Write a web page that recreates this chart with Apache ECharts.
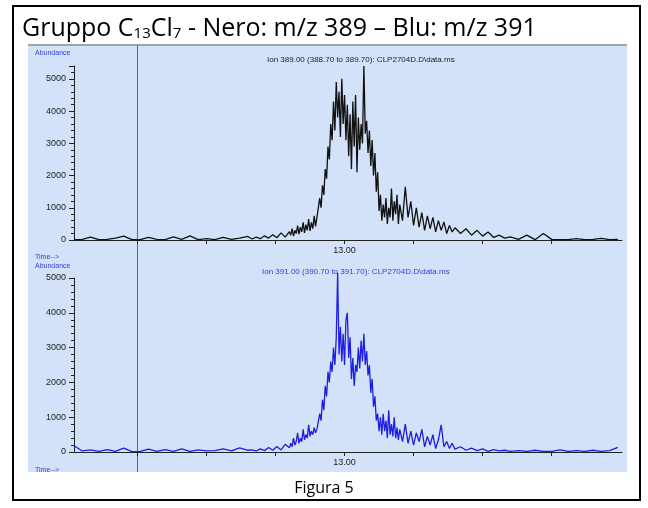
<!DOCTYPE html>
<html>
<head>
<meta charset="utf-8">
<script src="https://cdn.jsdelivr.net/npm/echarts@6/dist/echarts.min.js"></script>
<style>
html,body{margin:0;padding:0;background:#fff;}
#c{width:648px;height:508px;}
</style>
</head>
<body>
<div id="c"></div>
<script>
// Retention time (min), shared by both ion traces
const times = [
  11.04,11.10,11.16,11.22,11.28,11.34,11.40,11.46,11.52,11.58,11.64,11.70,11.76,11.82,11.88,11.94,12.00,12.06,12.12,12.18,12.24,12.30,
  12.33,12.36,12.39,12.42,12.45,12.48,12.51,12.54,12.57,12.60,
  12.61,12.62,12.63,12.64,12.65,12.66,12.67,12.68,12.69,12.70,
  12.71,12.72,12.73,12.74,12.75,12.76,12.77,12.78,12.79,12.80,
  12.81,12.82,12.83,12.84,12.85,12.86,12.87,12.88,12.89,12.90,
  12.91,12.92,12.93,12.94,12.95,12.96,12.97,12.98,12.99,13.00,
  13.01,13.02,13.03,13.04,13.05,13.06,13.07,13.08,13.09,13.10,
  13.11,13.12,13.13,13.14,13.15,13.16,13.17,13.18,13.19,13.20,
  13.21,13.22,13.23,13.24,13.25,13.26,13.27,13.28,13.29,13.30,
  13.31,13.32,13.33,13.34,13.35,13.36,13.37,13.38,13.39,13.40,
  13.42,13.44,13.46,13.48,13.50,13.52,13.54,13.56,13.58,13.60,13.62,13.64,13.66,13.68,13.70,13.72,13.74,13.76,13.78,13.80,
  13.84,13.88,13.92,13.96,14.00,14.04,14.08,14.12,14.16,14.20,
  14.26,14.32,14.38,14.44,14.50,14.56,14.62,14.68,14.74,14.80,14.86,14.92,14.98
];
// Abundance, m/z 389 (black trace)
const nero389 = [
  10,20,90,10,20,60,120,10,10,80,20,10,100,20,130,10,40,10,80,20,60,110,
  30,90,40,130,60,160,70,220,90,260,
  150,350,120,300,200,450,180,400,250,550,
  220,480,300,650,280,550,350,750,420,700,
  700,1300,1000,1700,1400,2200,1900,2900,2500,3600,
  3100,4300,3400,4900,3800,4600,3200,5000,3600,4500,
  3100,4200,2600,3900,2200,4300,2900,4500,2100,3800,
  2800,3600,3000,5400,3300,3700,2700,3400,2300,3100,
  2000,2700,1500,2100,900,1400,600,1100,700,1300,
  500,1000,700,1600,600,1200,800,1400,500,1100,
  600,1650,700,1200,450,1000,400,850,300,750,350,700,250,600,300,560,200,450,250,380,
  200,350,150,300,120,250,80,150,60,100,
  20,150,10,200,20,10,10,40,10,20,50,10,20
];
// Abundance, m/z 391 (blue trace)
const blu391 = [
  180,30,60,20,70,20,110,10,20,80,20,70,20,90,20,60,30,40,90,30,120,50,
  60,30,90,40,130,50,160,60,220,120,
  250,150,400,200,300,550,250,400,300,650,
  350,500,400,780,450,600,500,700,550,650,
  700,1100,900,1500,1200,1900,1600,2300,2000,2600,
  2300,3000,2500,3300,5150,2800,3600,2600,3400,2500,
  3800,4000,2700,3300,2100,2700,1900,2500,2300,3000,
  2400,3200,2600,3400,2500,2900,2200,2500,1700,2100,
  1300,1600,900,1100,600,1000,500,1100,600,900,
  400,1200,500,800,450,1000,400,700,350,650,
  300,800,250,600,200,550,300,650,150,450,200,500,100,350,780,150,300,100,250,80,
  150,50,110,40,90,20,70,30,50,20,
  40,20,50,20,20,60,20,40,20,50,20,40,130
];
const xTicks = [11.5, 12.0, 12.5, 13.0, 13.5, 14.0, 14.5];
const xLabels = [13.0];
const cursorTime = 11.5;
const headerTop = 'Ion 389.00 (388.70 to 389.70): CLP2704D.D\\data.ms';
const headerBot = 'Ion 391.00 (390.70 to 391.70): CLP2704D.D\\data.ms';

const BLUE_TXT = '#2b3fd6';
const PANEL = '#d3e2f8';

function xAxisCfg(gi){
  return {
    type:'value', gridIndex:gi, min:11.04, max:15.01,
    axisLine:{show:true, onZero:false, lineStyle:{color:'#222', width:1}},
    axisTick:{show:true, customValues:xTicks, length:4, lineStyle:{color:'#222'}},
    axisLabel:{show:true, customValues:xLabels, formatter:v=>v.toFixed(2), color:'#222', fontSize:9, fontFamily:'Liberation Sans', margin:6},
    splitLine:{show:false}
  };
}
function yAxisCfg(gi, max){
  return {
    type:'value', gridIndex:gi, min:0, max:max, interval:1000,
    axisLine:{show:true, lineStyle:{color:'#222', width:1}},
    axisTick:{show:true, length:5, lineStyle:{color:'#222'}},
    minorTick:{show:true, splitNumber:5, length:3, lineStyle:{color:'#222'}},
    axisLabel:{color:'#222', fontSize:9, fontFamily:'Liberation Sans', margin:8,
      formatter:v=>(v % 1000 === 0 ? String(v) : '')},
    splitLine:{show:false}
  };
}

const chart = echarts.init(document.getElementById('c'), null, {renderer:'canvas'});
const option = {
  backgroundColor:'#fff',
  animation:false,
  title:[
    {
      text:'{a|Gruppo C}{s|13}{a|Cl}{s|7}{a| - Nero: m/z 389 – Blu: m/z 391}',
      left:17, top:7,
      textStyle:{
        fontWeight:'normal',
        rich:{
          a:{fontSize:25, fontWeight:'normal', fontFamily:'Open Sans', color:'#000', lineHeight:29, verticalAlign:'bottom'},
          s:{fontSize:15, fontWeight:'normal', fontFamily:'Open Sans', color:'#000', lineHeight:13, verticalAlign:'bottom'}
        }
      }
    },
    {
      text:'Figura 5', left:'center', top:475,
      textStyle:{fontSize:16, fontWeight:'normal', fontFamily:'Open Sans', color:'#000'}
    },
    {text:headerTop, left:262, top:51, textStyle:{fontSize:8, fontWeight:'normal', fontFamily:'Liberation Sans', color:'#222'}},
    {text:headerBot, left:257, top:263, textStyle:{fontSize:8, fontWeight:'normal', fontFamily:'Liberation Sans', color:BLUE_TXT}},
    {text:'Abundance', left:30, top:45, textStyle:{fontSize:7, fontWeight:'normal', fontFamily:'Liberation Sans', color:BLUE_TXT}},
    {text:'Time-->', left:30, top:249, textStyle:{fontSize:7, fontWeight:'normal', fontFamily:'Liberation Sans', color:BLUE_TXT}},
    {text:'Abundance', left:30, top:258, textStyle:{fontSize:7, fontWeight:'normal', fontFamily:'Liberation Sans', color:BLUE_TXT}},
    {text:'Time-->', left:30, top:462, textStyle:{fontSize:7, fontWeight:'normal', fontFamily:'Liberation Sans', color:BLUE_TXT}}
  ],
  grid:[
    {left:74, right:26, top:66, height:174},
    {left:74, right:26, top:278, height:174}
  ],
  xAxis:[xAxisCfg(0), xAxisCfg(1)],
  yAxis:[yAxisCfg(0,5400), yAxisCfg(1,5000)],
  series:[
    {type:'line', xAxisIndex:0, yAxisIndex:0, data:times.map((t,i)=>[t,nero389[i]]),
     showSymbol:false, clip:false, lineStyle:{color:'#111', width:1.3}, z:3},
    {type:'line', xAxisIndex:1, yAxisIndex:1, data:times.map((t,i)=>[t,blu391[i]]),
     showSymbol:false, clip:false, lineStyle:{color:'#1f1fe0', width:1.3}, z:3}
  ]
};
chart.setOption(option);

// decorations: outer frame, blue panel, cursor line
const cx = chart.convertToPixel({xAxisIndex:0}, cursorTime);
chart.setOption({
  graphic:[
    {type:'rect', z:-20, shape:{x:13, y:6, width:627, height:494}, style:{fill:'#fff', stroke:'#000', lineWidth:2}},
    {type:'rect', z:-10, shape:{x:28, y:44, width:599, height:428}, style:{fill:PANEL}},
    {type:'line', z:-5, shape:{x1:28, y1:45, x2:627, y2:45}, style:{stroke:'#8a8f99', lineWidth:1.5}},
    {type:'line', z:-5, shape:{x1:cx, y1:45, x2:cx, y2:472}, style:{stroke:'#666', lineWidth:1}}
  ]
});
</script>
</body>
</html>
